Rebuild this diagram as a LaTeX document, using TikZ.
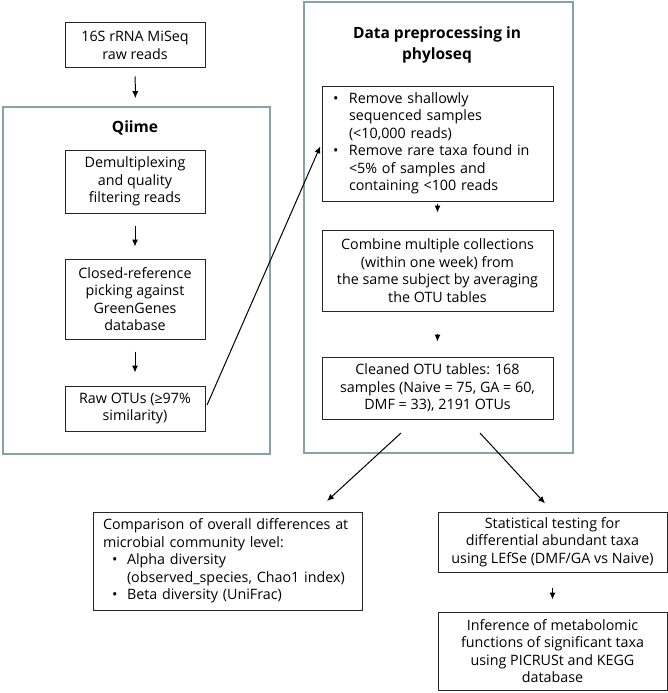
\documentclass[tikz,border=0pt]{standalone}
\usepackage{fontspec}
\setmainfont{Open Sans}
\usetikzlibrary{arrows.meta,calc}
\definecolor{framegray}{HTML}{88A2A8}
\tikzset{
  box/.style={draw=black!85, line width=1pt, align=center, inner sep=0pt, font=\fontsize{14.3}{17.5}\selectfont},
  frame/.style={draw=framegray, line width=1.7pt, inner sep=0pt},
  ttl/.style={font=\fontsize{15.5}{21}\selectfont\bfseries, align=center},
  arr/.style={-{Latex[length=7pt,width=6pt]}, line width=1pt},
}
\newcommand{\bul}{\makebox[16pt][l]{\textbullet}}
\newcommand{\ind}{\hspace*{16pt}}

\begin{document}
\begin{tikzpicture}[x=1pt,y=-1pt]
		%%%%% START %%%%%
		\useasboundingbox (0,0) rectangle (668,693);
		
		% frames
		\node[frame, minimum width=267pt, minimum height=347pt] (qiimeframe) at (136.5,280.5) {};
		\node[frame, minimum width=269pt, minimum height=451pt] (phyloframe) at (438.5,227.5) {};
		\node[ttl] (qiimettl) at (135,128) {Qiime};
		\node[ttl] (phylottl) at (437,45) {Data preprocessing in\\phyloseq};
		
		% left column
		\node[box, minimum width=140pt, minimum height=45pt] (rawreads) at (135,45.5) {16S rRNA MiSeq\\raw reads};
		\node[box, minimum width=140pt, minimum height=63pt] (demux) at (135,181.5) {Demultiplexing\\and quality\\filtering reads};
		\node[box, minimum width=140pt, minimum height=80pt] (closedref) at (135,299) {Closed-reference\\picking against\\GreenGenes\\database};
		\node[box, minimum width=140pt, minimum height=45pt] (rawotu) at (135,408.5) {Raw OTUs (≥97\%\\similarity)};
		
		% right column
		\node[box, align=left, text width=209pt, inner xsep=11pt, minimum height=115pt] (filt) at (437.5,143.5)
			{\bul Remove shallowly\\ \ind sequenced samples\\ \ind (<10,000 reads)\\ \bul Remove rare taxa found in\\ \ind <5\% of samples and\\ \ind containing <100 reads};
		\node[box, minimum width=231pt, minimum height=81pt] (combine) at (437.5,270.5)
			{Combine multiple collections\\(within one week) from\hspace*{34pt}\\the same subject by averaging\\the OTU tables};
		\node[box, minimum width=231pt, minimum height=62pt] (clean) at (437.5,388)
			{Cleaned OTU tables: 168\\samples (Naive = 75, GA = 60,\\DMF = 33), 2191 OTUs};
		
		% bottom
		\node[box, align=left, text width=249pt, inner xsep=10pt, minimum height=98pt] (compare) at (227.5,561)
			{Comparison of overall differences at\\microbial community level:\\ \hspace*{9pt}\makebox[15pt][l]{\textbullet}Alpha diversity\\ \hspace*{24pt}(observed\_species, Chao1 index)\\ \hspace*{9pt}\makebox[15pt][l]{\textbullet}Beta diversity (UniFrac)};
		\node[box, minimum width=229pt, minimum height=60pt] (lefse) at (552.5,542)
			{Statistical testing for\\differential abundant taxa\\using LEfSe (DMF/GA vs Naive)};
		\node[box, minimum width=229pt, minimum height=78pt] (picrust) at (552.5,651)
			{Inference of metabolomic\\functions of significant taxa\\using PICRUSt and KEGG\\database};
		
		\coordinate (splitl) at (401,433);
		\coordinate (splitr) at (480,433);
		\coordinate (cmpin) at (327,501);
		
		% arrows
		\draw[arr, shorten <=8pt, shorten >=8pt] (rawreads) -- (qiimeframe);
		\draw[arr, shorten <=12pt, shorten >=12pt] (demux) -- (closedref);
		\draw[arr, shorten <=12pt, shorten >=13pt] (closedref) -- (rawotu);
		\draw[arr, shorten <=4pt, shorten >=3pt] (rawotu.east) -- (filt.west);
		\draw[arr, shorten <=2pt, shorten >=17pt] (filt) -- (combine);
		\draw[arr, shorten <=22pt, shorten >=15pt] (combine) -- (clean);
		\draw[arr] (splitl) -- (cmpin);
		\draw[arr, shorten >=11pt] (splitr) -- (lefse.north);
		\draw[arr, shorten <=15pt, shorten >=12pt] (lefse) -- (picrust);
		
		%%%%% END %%%%%
\end{tikzpicture}
\end{document}
